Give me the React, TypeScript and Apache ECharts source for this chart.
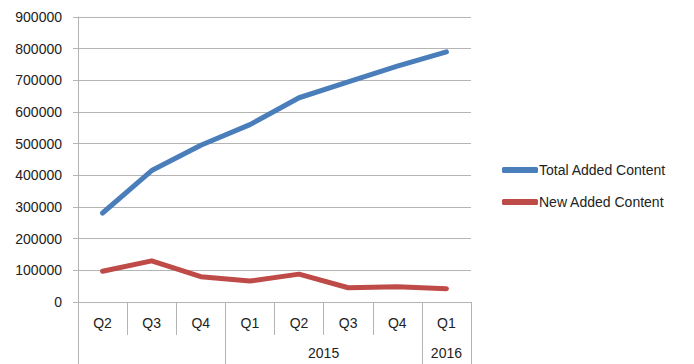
import React, { useEffect, useRef } from "react";
import * as echarts from "echarts";

const quarters = ["Q2", "Q3", "Q4", "Q1", "Q2", "Q3", "Q4", "Q1"];
const totalAdded = [281000, 415000, 495000, 560000, 645000, 695000, 745000, 790000];
const newAdded = [97000, 130000, 80000, 66000, 88000, 45000, 48000, 42000];
const yearLabels = ["2015", "2016"];
const yearCenters = [5, 7.5];
const yearBoundaries = [0, 3, 7, 8];

export default function App() {
  const ref = useRef<HTMLDivElement>(null);
  useEffect(() => {
    if (!ref.current) return;
    const chart = echarts.init(ref.current, null, { renderer: "svg" });
    const font = "Liberation Sans";
    const gray = "#b4b4b4";
    chart.setOption({
      animation: false,
      textStyle: { fontFamily: font },
      grid: { left: 78, right: 223, top: 17, bottom: 62, containLabel: false },
      legend: {
        orient: "vertical",
        left: 497,
        top: 158,
        itemWidth: 36,
        itemHeight: 6,
        itemGap: 18,
        icon: "roundRect",
        textStyle: { fontFamily: font, fontSize: 14, color: "#222", padding: [0, 0, 0, -4] },
        data: ["Total Added Content", "New Added Content"],
      },
      xAxis: [
        {
          type: "category",
          data: quarters,
          boundaryGap: true,
          position: "bottom",
          axisLine: { show: true, onZero: false, lineStyle: { color: gray, width: 1 } },
          axisTick: { show: true, interval: 0, length: 33, lineStyle: { color: gray } },
          axisLabel: { fontFamily: font, fontSize: 14, color: "#222", margin: 14, interval: 0 },
          splitLine: { show: false },
        },
        {
          type: "value",
          min: 0,
          max: 8,
          position: "bottom",
          axisLine: { show: false, onZero: false },
          axisTick: {
            show: true,
            length: 62,
            customValues: yearBoundaries,
            lineStyle: { color: gray },
          },
          axisLabel: {
            show: true,
            customValues: yearCenters,
            formatter: (v: number) => yearLabels[yearCenters.indexOf(v)] ?? "",
            fontFamily: font,
            fontSize: 14,
            color: "#222",
            margin: 44,
          },
          splitLine: { show: false },
        },
      ],
      yAxis: {
        type: "value",
        min: 0,
        max: 900000,
        interval: 100000,
        axisLine: { show: true, lineStyle: { color: gray } },
        axisTick: { show: true, length: 5, lineStyle: { color: gray } },
        axisLabel: {
          fontFamily: font,
          fontSize: 14,
          color: "#222",
          margin: 16,
          formatter: (v: number) => String(v),
        },
        splitLine: { show: true, lineStyle: { color: gray, width: 1 } },
      },
      series: [
        {
          name: "Total Added Content",
          type: "line",
          data: totalAdded,
          symbol: "none",
          lineStyle: { width: 5, color: "#4a7ebb", cap: "round", join: "round" },
          itemStyle: { color: "#4a7ebb" },
        },
        {
          name: "New Added Content",
          type: "line",
          data: newAdded,
          symbol: "none",
          lineStyle: { width: 5, color: "#be4b48", cap: "round", join: "round" },
          itemStyle: { color: "#be4b48" },
        },
      ],
    });
    return () => chart.dispose();
  }, []);
  return <div ref={ref} style={{ width: 694, height: 364, position: "absolute", left: 0, top: 0 }} />;
}
